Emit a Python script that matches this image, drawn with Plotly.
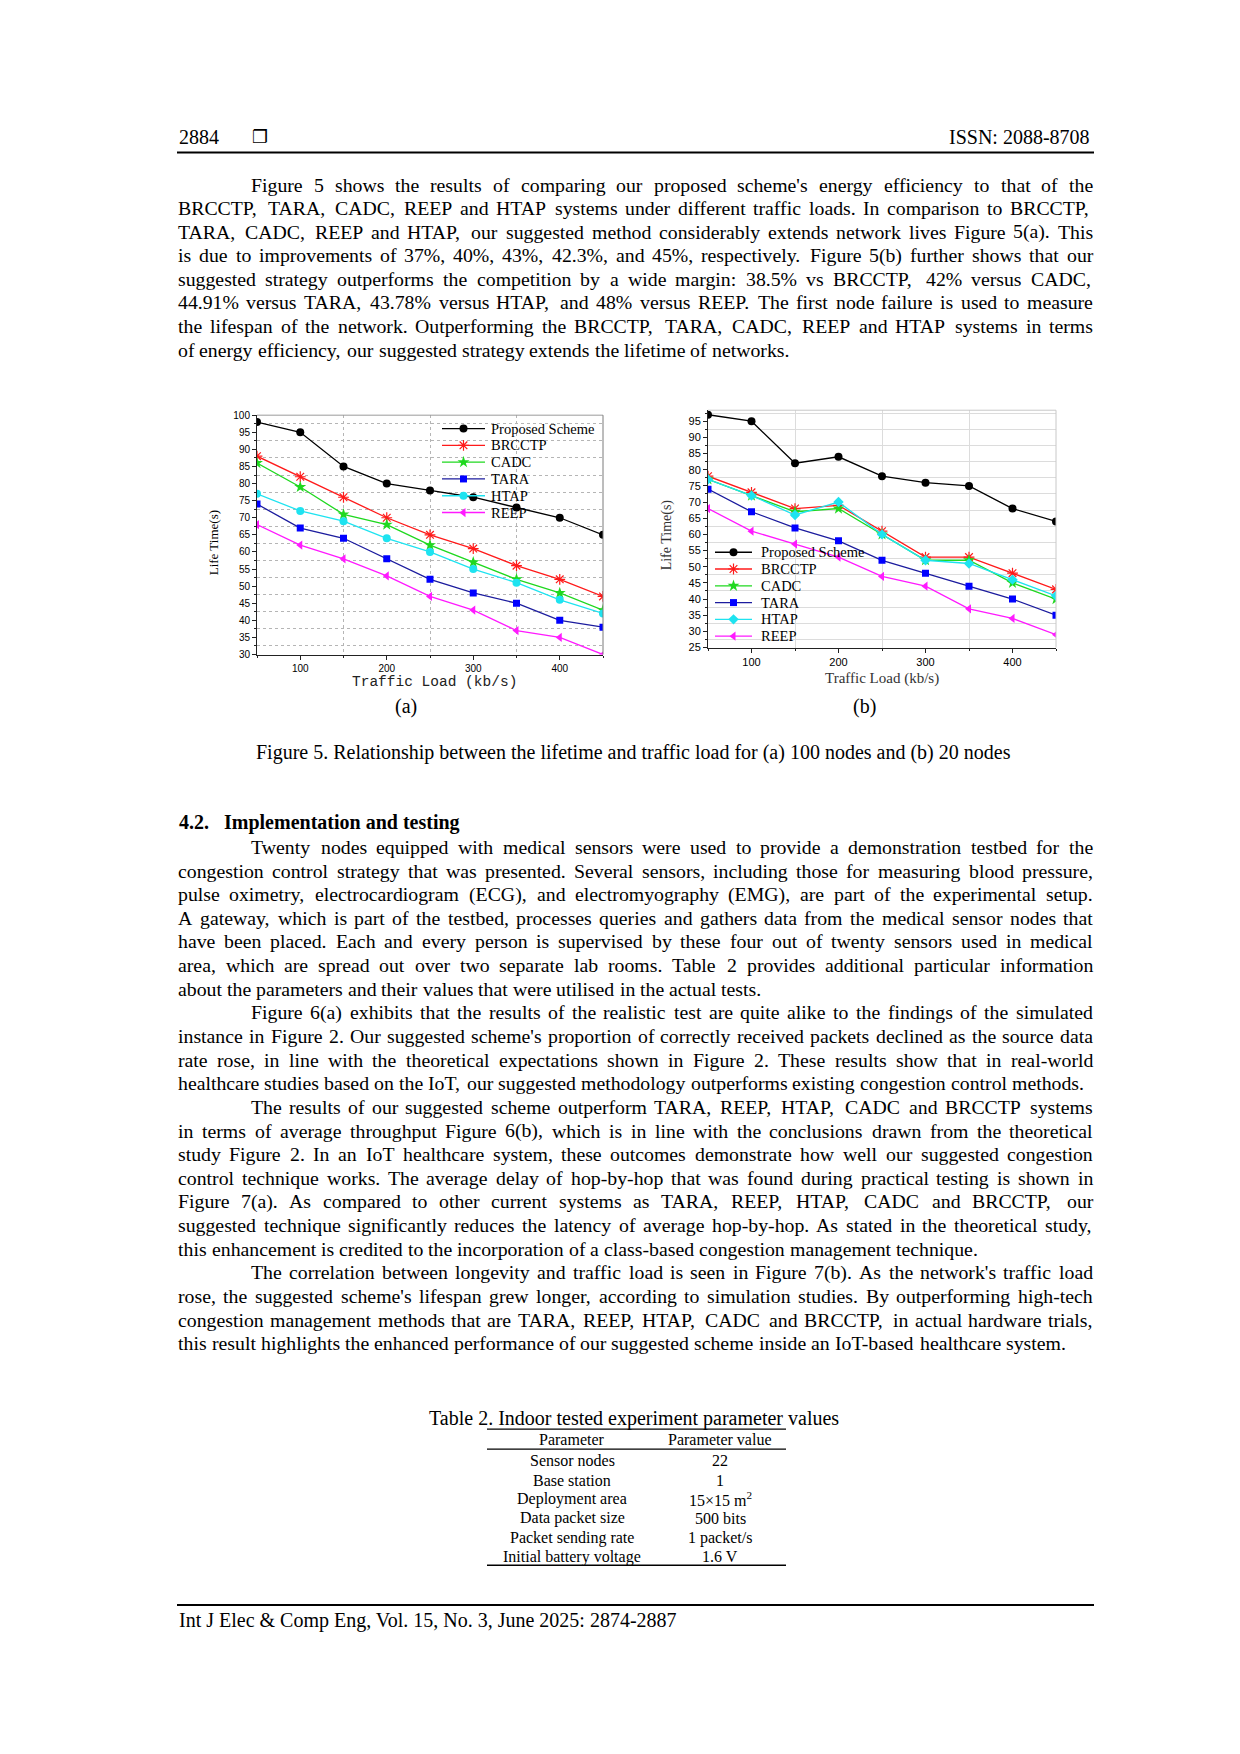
import plotly.graph_objects as go

W, H = 1240, 1754

# ---- chart data ----
load = [50, 100, 150, 200, 250, 300, 350, 400, 450]
x_ticks = [100, 200, 300, 400]
schemes = ["Proposed Scheme", "BRCCTP", "CADC", "TARA", "HTAP", "REEP"]

# (a) 100 nodes
a_proposed = [98, 95, 85, 80, 78, 76, 73, 70, 65]
a_brcctp = [88, 82, 76, 70, 65, 61, 56, 52, 47]
a_cadc = [86, 79, 71, 68, 62, 57, 52, 48, 43]
a_tara = [74, 67, 64, 58, 52, 48, 45, 40, 38]
a_htap = [77, 72, 69, 64, 60, 55, 51, 46, 42]
a_reep = [68, 62, 58, 53, 47, 43, 37, 35, 30]

# (b) 20 nodes
b_proposed = [97, 95, 82, 84, 78, 76, 75, 68, 64]
b_brcctp = [78, 73, 68, 69, 61, 53, 53, 48, 43]
b_cadc = [77, 72, 67, 68, 60, 52, 52, 45, 40]
b_tara = [74, 67, 62, 58, 52, 48, 44, 40, 35]
b_htap = [77, 72, 66, 70, 60, 52, 51, 46, 41]
b_reep = [68, 61, 57, 53, 47, 44, 37, 34, 29]

table_params = ["Sensor nodes", "Base station", "Deployment area",
                "Data packet size", "Packet sending rate", "Initial battery voltage"]
table_values = ["22", "1", "15×15 m<sup>2</sup>", "500 bits", "1 packet/s", "1.6 V"]

# ---- page text ----
para1 = [
    "Figure 5 shows the results of comparing our proposed scheme's energy efficiency to that of the",
    "BRCCTP, TARA, CADC, REEP and HTAP systems under different traffic loads. In comparison to BRCCTP,",
    "TARA, CADC, REEP and HTAP, our suggested method considerably extends network lives Figure 5(a). This",
    "is due to improvements of 37%, 40%, 43%, 42.3%, and 45%, respectively. Figure 5(b) further shows that our",
    "suggested strategy outperforms the competition by a wide margin: 38.5% vs BRCCTP, 42% versus CADC,",
    "44.91% versus TARA, 43.78% versus HTAP, and 48% versus REEP. The first node failure is used to measure",
    "the lifespan of the network. Outperforming the BRCCTP, TARA, CADC, REEP and HTAP systems in terms",
    "of energy efficiency, our suggested strategy extends the lifetime of networks.",
]
para2 = [
    "Twenty nodes equipped with medical sensors were used to provide a demonstration testbed for the",
    "congestion control strategy that was presented. Several sensors, including those for measuring blood pressure,",
    "pulse oximetry, electrocardiogram (ECG), and electromyography (EMG), are part of the experimental setup.",
    "A gateway, which is part of the testbed, processes queries and gathers data from the medical sensor nodes that",
    "have been placed. Each and every person is supervised by these four out of twenty sensors used in medical",
    "area, which are spread out over two separate lab rooms. Table 2 provides additional particular information",
    "about the parameters and their values that were utilised in the actual tests.",
]
para3 = [
    "Figure 6(a) exhibits that the results of the realistic test are quite alike to the findings of the simulated",
    "instance in Figure 2. Our suggested scheme's proportion of correctly received packets declined as the source data",
    "rate rose, in line with the theoretical expectations shown in Figure 2. These results show that in real-world",
    "healthcare studies based on the IoT, our suggested methodology outperforms existing congestion control methods.",
]
para4 = [
    "The results of our suggested scheme outperform TARA, REEP, HTAP, CADC and BRCCTP systems",
    "in terms of average throughput Figure 6(b), which is in line with the conclusions drawn from the theoretical",
    "study Figure 2. In an IoT healthcare system, these outcomes demonstrate how well our suggested congestion",
    "control technique works. The average delay of hop-by-hop that was found during practical testing is shown in",
    "Figure 7(a). As compared to other current systems as TARA, REEP, HTAP, CADC and BRCCTP, our",
    "suggested technique significantly reduces the latency of average hop-by-hop. As stated in the theoretical study,",
    "this enhancement is credited to the incorporation of a class-based congestion management technique.",
]
para5 = [
    "The correlation between longevity and traffic load is seen in Figure 7(b). As the network's traffic load",
    "rose, the suggested scheme's lifespan grew longer, according to simulation studies. By outperforming high-tech",
    "congestion management methods that are TARA, REEP, HTAP, CADC and BRCCTP, in actual hardware trials,",
    "this result highlights the enhanced performance of our suggested scheme inside an IoT-based healthcare system.",
]

SERIF = "Liberation Serif"
SANS = "Liberation Sans"

# Times New Roman advance widths (per 1000 em), enough to justify lines
_TNR = {" ": 250, ".": 250, ",": 250, ":": 278, ";": 278, "(": 333, ")": 333,
        "%": 833, "'": 180, "-": 333, "/": 278, "&": 778, "J": 389, "y": 500}
for chars, w in [("ACDGHKNOQUVXYw", 722), ("BR", 667), ("ELTZ", 611), ("FPS", 556),
                 ("I", 333), ("M", 889), ("W", 944), ("0123456789", 500),
                 ("bdghknopquvx", 500), ("acez", 444), ("fr", 333),
                 ("ijlt", 278), ("m", 778), ("s", 389)]:
    for ch in chars:
        _TNR.setdefault(ch, w)


def px(x):
    return x / W


def py(y):
    return 1 - y / H


def text_w(s, size):
    return sum(_TNR.get(ch, 500) for ch in s) * size / 1000


def justified(lines, y0, step, size=19.8, x0=177, x1=1092, indent=73):
    out = []
    for i, line in enumerate(lines):
        words = line.split(" ")
        left = x0 + (indent if i == 0 else 0)
        widths = [text_w(w, size) for w in words]
        if i == len(lines) - 1:
            gap = text_w(" ", size)
        else:
            gap = (x1 - left - sum(widths)) / (len(words) - 1)
        x = left
        for word, wd in zip(words, widths):
            out.append(dict(text=word, x=px(x), y=py(y0 + i * step),
                            xanchor="left", yanchor="middle", borderpad=0,
                            font=dict(family=SERIF, size=size, color="black")))
            x += wd + gap
    return out


def label(text, x, y, size=20, anchor="left", family=SERIF, color="black", angle=0):
    return dict(text=text, x=px(x), y=py(y), xanchor=anchor, yanchor="middle",
                textangle=angle, font=dict(family=family, size=size, color=color))


# ---- traces ----
a_series = [a_proposed, a_brcctp, a_cadc, a_tara, a_htap, a_reep]
b_series = [b_proposed, b_brcctp, b_cadc, b_tara, b_htap, b_reep]
line_colors = ["#000000", "#ff1a1a", "#1fd81f", "#1c1c9e", "#1ee3f0", "#ff1aff"]
marker_colors = ["#000000", "#ff1a1a", "#1fd81f", "#0000ff", "#1ee3f0", "#ff1aff"]
symbols_a = ["circle", "asterisk-open", "star", "square", "circle", "triangle-left"]
symbols_b = ["circle", "asterisk-open", "star", "square", "diamond", "triangle-left"]
sizes = [8, 9, 9, 7, 8, 8]


def marker(i, syms):
    mk = dict(symbol=syms[i], size=sizes[i], color=marker_colors[i])
    if syms[i] == "asterisk-open":
        mk["line"] = dict(color=marker_colors[i], width=1.2)
    return mk


fig = go.Figure()
for i, name in enumerate(schemes):
    for panel, ys, syms in [("", a_series, symbols_a), ("2", b_series, symbols_b)]:
        fig.add_trace(go.Scatter(
            x=load, y=ys[i], name=name, mode="lines+markers",
            line=dict(color=line_colors[i], width=1.3), marker=marker(i, syms),
            xaxis="x" + panel, yaxis="y" + panel, showlegend=False,
        ))

# hand-drawn legends (tighter row spacing than plotly's legend allows),
# drawn on a hidden page-sized axis measured in pixels
legend_boxes = [  # line start, line end, text x, first row y, row step, symbols
    (442, 485, 489, 425.5, 16.9, symbols_a),
    (715, 752, 759, 550.0, 16.9, symbols_b),
]
anns = []
for lx0, lx1, tx, ly0, step, syms in legend_boxes:
    for i, name in enumerate(schemes):
        ly = ly0 + i * step
        fig.add_trace(go.Scatter(
            x=[lx0, lx1], y=[ly, ly], mode="lines", line=dict(color=line_colors[i], width=1.3),
            xaxis="x3", yaxis="y3", showlegend=False, hoverinfo="skip", cliponaxis=False))
        fig.add_trace(go.Scatter(
            x=[(lx0 + lx1) / 2], y=[ly], mode="markers", marker=marker(i, syms),
            xaxis="x3", yaxis="y3", showlegend=False, hoverinfo="skip", cliponaxis=False))
        anns.append(label(name, tx, ly, size=14.5))


def axis_style(tick_size, grid_color, grid_dash):
    return dict(
        showline=True, linecolor="#222", linewidth=1, mirror=False,
        ticks="outside", ticklen=4, tickcolor="#222", showgrid=False, zeroline=False,
        tickfont=dict(family=SANS, size=tick_size, color="black"),
    ), dict(showgrid=True, gridcolor=grid_color, griddash=grid_dash, gridwidth=1,
            ticks="outside", ticklen=2, tickcolor="#222")


ax_a, minor_a = axis_style(10, "#b5b5b5", "dot")
ax_b, minor_b = axis_style(11, "#dcdcdc", "solid")

fig.update_layout(
    width=W, height=H, margin=dict(l=0, r=0, t=0, b=0),
    paper_bgcolor="white", plot_bgcolor="rgba(0,0,0,0)", showlegend=False,
    xaxis=dict(ax_a, domain=[px(257), px(603)], anchor="y", range=[50, 450],
               tickvals=x_ticks, minor=dict(minor_a, tick0=150, dtick=100)),
    yaxis=dict(ax_a, domain=[py(653), py(412)], anchor="x", range=[30, 100],
               tick0=30, dtick=5, minor=dict(minor_a, tick0=32.5, dtick=5)),
    xaxis2=dict(ax_b, domain=[px(708), px(1056)], anchor="y2", range=[50, 450],
                tickvals=x_ticks, minor=dict(minor_b, tick0=150, dtick=100)),
    yaxis2=dict(ax_b, domain=[py(646), py(407)], anchor="x2", range=[25, 98.4],
                tick0=25, dtick=5, minor=dict(minor_b, tick0=27.5, dtick=5)),
    xaxis3=dict(domain=[0, 1], range=[0, W], visible=False, fixedrange=True),
    yaxis3=dict(domain=[0, 1], range=[H, 0], visible=False, fixedrange=True),
)

# ---- page furniture ----
anns.append(label("2884", 177, 132))
anns.append(label("❐", 250, 131, size=18, family="DejaVu Sans"))
anns.append(label("ISSN: 2088-8708", 1092, 132, anchor="right"))
anns += justified(para1, 180, 23.7)

anns.append(label("Life Time(s)", 213, 541, size=13, anchor="center", angle=-90))
anns.append(label("Traffic Load (kb/s)", 434, 681, size=14.5, anchor="center",
                  family="Liberation Mono", color="#222"))
anns.append(label("Life Time(s)", 667, 533, size=14, anchor="center", angle=-90, color="#333"))
anns.append(label("Traffic Load (kb/s)", 882, 677, size=15, anchor="center", color="#333"))
anns.append(label("(a)", 406, 705, anchor="center"))
anns.append(label("(b)", 864, 705, anchor="center"))
anns.append(label("Figure 5. Relationship between the lifetime and traffic load for (a) 100 nodes "
                  "and (b) 20 nodes", 634, 752, anchor="center"))

anns.append(label("<b>4.2.</b>", 177, 822))
anns.append(label("<b>Implementation and testing</b>", 222, 822))
y = 846.7
for para in [para2, para3, para4, para5]:
    anns += justified(para, y, 23.8)
    y += 23.8 * len(para)

anns.append(label("Table 2. Indoor tested experiment parameter values", 634, 1422, anchor="center"))
anns.append(label("Parameter", 572, 1443, size=16, anchor="center"))
anns.append(label("Parameter value", 720, 1443, size=16, anchor="center"))
for i, (p, v) in enumerate(zip(table_params, table_values)):
    ry = 1465 + i * 19.3
    anns.append(label(p, 572, ry, size=16, anchor="center"))
    anns.append(label(v, 720, ry, size=16, anchor="center"))

anns.append(label("Int J Elec &amp; Comp Eng, Vol. 15, No. 3, June 2025: 2874-2887", 177, 1626))

for a in anns:
    a.update(xref="paper", yref="paper", showarrow=False)
fig.update_layout(annotations=anns)


def hline(x0, x1, y, width, color="black"):
    return dict(type="line", xref="paper", yref="paper", x0=px(x0), x1=px(x1),
                y0=py(y), y1=py(y), line=dict(color=color, width=width))


def vline(x, y0, y1, width, color):
    return dict(type="line", xref="paper", yref="paper", x0=px(x), x1=px(x),
                y0=py(y0), y1=py(y1), line=dict(color=color, width=width))


fig.update_layout(shapes=[
    hline(177, 1094, 147.5, 2),
    # light frame on the top/right of each panel
    hline(257, 603, 412, 1, "#9a9a9a"), vline(603, 412, 653, 1, "#7a7a7a"),
    hline(708, 1056, 407, 1, "#c8c8c8"), vline(1056, 407, 646, 1, "#c8c8c8"),
    hline(487, 786, 1433, 1.3),
    hline(487, 786, 1453, 1.3),
    hline(487, 786, 1570, 1.3),
    hline(177, 1094, 1610, 2),
])

# the page is photographed edge to edge: pin the figure to the window's corner
pin_page = (
    "document.documentElement.style.overflow='hidden';"
    "document.body.style.margin='0';document.body.style.overflow='hidden';"
    "var d=document.getElementById('{plot_id}');"
    "d.style.position='fixed';d.style.left='0';d.style.top='0';"
)
fig.write_html("out.html", config={"displayModeBar": False}, post_script=pin_page)
